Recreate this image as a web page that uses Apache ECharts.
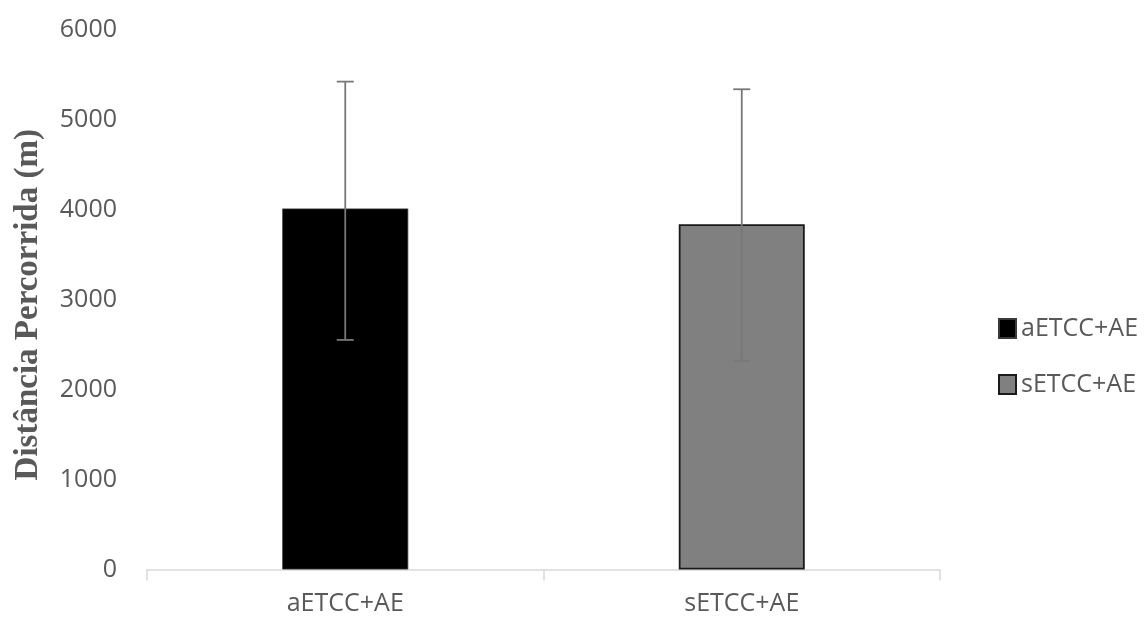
<!DOCTYPE html>
<html>
<head>
<meta charset="utf-8">
<script src="https://cdn.jsdelivr.net/npm/echarts@6/dist/echarts.min.js"></script>
<style>
html,body{margin:0;padding:0;background:#fff;}
#chart{width:1144px;height:618px;}
</style>
</head>
<body>
<div id="chart"></div>
<script>
const categories = ['aETCC+AE', 'sETCC+AE'];
const seriesNames = ['aETCC+AE', 'sETCC+AE'];
const meanValues = [4015, 3840];
const errLow = [2553, 2323];
const errHigh = [5426, 5341];
const yTicks = [0, 1000, 2000, 3000, 4000, 5000, 6000];

const fillColors = ['#000000', '#808080'];
const borderColors = ['#3a3a3a', '#1a1a1a'];
const textColor = '#595959';
const font = 'Open Sans';

const chart = echarts.init(document.getElementById('chart'));

const barSeries = seriesNames.map((name, i) => ({
  name: name,
  type: 'bar',
  barWidth: 126,
  barGap: '-100%',
  data: categories.map((c, j) => (j === i ? meanValues[j] : '-')),
  itemStyle: { color: fillColors[i], borderColor: borderColors[i], borderWidth: i === 0 ? 0.8 : 1.8 },
  z: 2
}));

const errSeries = {
  type: 'custom',
  name: 'err',
  silent: true,
  z: 5,
  data: categories.map((c, j) => [j, errLow[j], errHigh[j]]),
  renderItem: function (params, api) {
    const x = api.value(0);
    const lo = api.coord([x, api.value(1)]);
    const hi = api.coord([x, api.value(2)]);
    const half = 8.5;
    const style = { stroke: '#787878', lineWidth: 1.8 };
    return {
      type: 'group',
      children: [
        { type: 'line', shape: { x1: lo[0], y1: lo[1], x2: hi[0], y2: hi[1] }, style: style },
        { type: 'line', shape: { x1: hi[0] - half, y1: hi[1], x2: hi[0] + half, y2: hi[1] }, style: style },
        { type: 'line', shape: { x1: lo[0] - half, y1: lo[1], x2: lo[0] + half, y2: lo[1] }, style: style }
      ]
    };
  }
};

chart.setOption({
  animation: false,
  backgroundColor: '#ffffff',
  grid: { left: 147, right: 204, top: 30, bottom: 48.5, containLabel: false },
  legend: {
    data: seriesNames,
    orient: 'vertical',
    left: 993,
    top: 311,
    itemWidth: 17,
    itemHeight: 19,
    itemGap: 31,
    itemTextGap: 3,
    icon: 'rect',
    textStyle: { color: textColor, fontSize: 25, fontFamily: font }
  },
  xAxis: {
    type: 'category',
    data: categories,
    axisLine: { lineStyle: { color: '#d9d9d9', width: 1.5 } },
    axisTick: { show: true, length: 11, lineStyle: { color: '#d9d9d9', width: 1.5 } },
    axisLabel: { color: textColor, fontSize: 25, fontFamily: font, margin: 22 }
  },
  yAxis: {
    type: 'value',
    min: 0,
    max: 6000,
    interval: 1000,
    name: 'Distância Percorrida (m)',
    nameLocation: 'middle',
    nameGap: 102,
    nameTextStyle: { color: textColor, fontSize: 33, fontWeight: 'bold', fontFamily: 'Liberation Serif', padding: [0, 10, 0, 0] },
    axisLine: { show: false },
    axisTick: { show: false },
    splitLine: { show: false },
    axisLabel: {
      color: textColor, fontSize: 25, fontFamily: font, margin: 30,
      padding: [0, 0, 6, 0],
      customValues: yTicks,
      formatter: function (v) { return String(v); }
    }
  },
  series: barSeries.concat([errSeries])
});
</script>
</body>
</html>
